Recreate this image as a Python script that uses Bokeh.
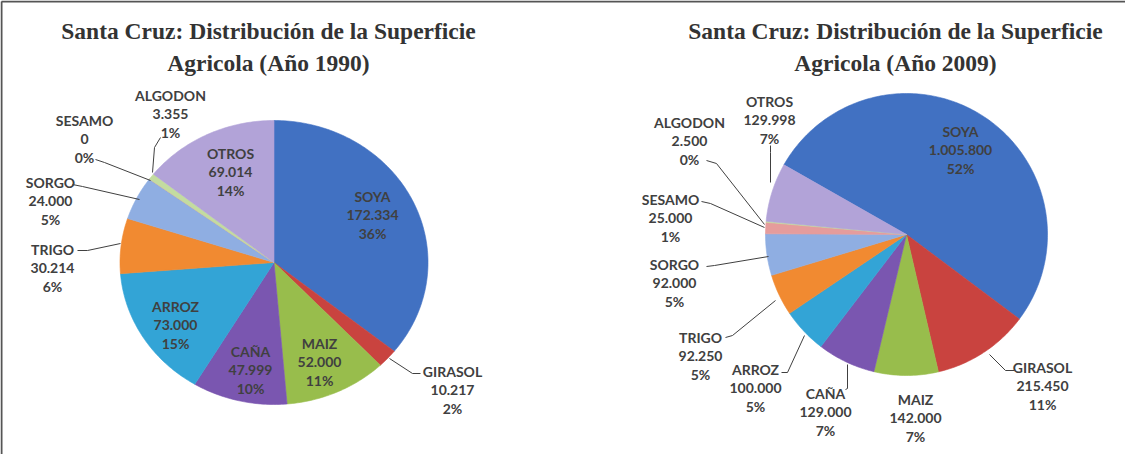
import numpy as np
from bokeh.plotting import figure
from bokeh.models import Range1d, ColumnDataSource
from bokeh.core.properties import value
from bokeh.embed import file_html
from bokeh.resources import INLINE

# ---------------- data ----------------
crops = ["SOYA", "GIRASOL", "MAIZ", "CAÑA", "ARROZ", "TRIGO", "SORGO", "SESAMO", "ALGODON", "OTROS"]
area_1990 = [172334, 10217, 52000, 47999, 73000, 30214, 24000, 0, 3355, 69014]
area_2009 = [1005800, 215450, 142000, 129000, 100000, 92250, 92000, 25000, 2500, 129998]
title_1990 = ["Santa Cruz: Distribución de la Superficie", "Agricola (Año 1990)"]
title_2009 = ["Santa Cruz: Distribución de la Superficie", "Agricola (Año 2009)"]

colors = ["#4171C2", "#C9433F", "#98BD4C", "#7A56B0", "#33A4D6",
          "#F18A31", "#8FAEE2", "#E59C9C", "#C3DCA0", "#B2A3D8"]

# ---------------- layout (page pixel coordinates) ----------------
W, H = 1125, 454


def X(px):
    return px - 8


def Y(py):
    return 462 - py


pie_1990 = dict(cx=281.5, cy=270, rx=154, ry=142, start=90.0)
pie_2009 = dict(cx=914, cy=242, rx=141, ry=141, start=150.4)

# label block centres (page px) per slice, in crops order
lab_1990 = [(380, 222), (460, 397), (327, 369), (258, 377), (183, 332),
            (60, 275), (58, 208), (92, 146), (178, 121), (238, 179)]
lab_2009 = [(968, 157), (1050, 393), (923, 425), (833, 419), (763, 395),
            (708, 363), (682, 290), (678, 225), (697, 148), (777, 127)]

lead_1990 = {1: [(428, 381), (420, 381), (397, 366)],
             7: [(103, 167), (112, 170), (158, 188)],
             8: [(168, 145), (162, 155), (160, 180)],
             6: [(80, 192), (90, 194), (147, 207)],
             5: [(85, 258), (95, 258), (128, 251)]}
lead_2009 = {1: [(1022, 378), (1013, 378), (997, 362)],
             3: [(853, 397), (855, 396), (855, 372)],
             4: [(789, 380), (795, 380), (812, 343)],
             5: [(733, 345), (740, 343), (783, 308)],
             6: [(714, 274), (722, 273), (776, 264)],
             7: [(709, 209), (718, 211), (772, 235)],
             8: [(714, 168), (724, 171), (772, 232)],
             9: [(778, 153), (778, 160), (778, 190)]}

p = figure(width=W, height=H, output_backend="svg", toolbar_location=None,
           x_range=Range1d(0, W), y_range=Range1d(0, H), min_border=0)
p.axis.visible = False
p.grid.visible = False
p.outline_line_color = None
p.background_fill_color = "white"
p.border_fill_color = "white"

# frame (left and top edges)
p.segment(x0=[X(9), X(9)], y0=[Y(9), Y(9)], x1=[X(9), X(1140)], y1=[Y(470), Y(9)],
          line_color="#555555", line_width=2)


def draw_pie(vals, geo, labels, leads):
    vals = np.asarray(vals, dtype=float)
    tot = vals.sum()
    frac = vals / tot
    cum = np.concatenate([[0], np.cumsum(frac)])
    xs, ys = [], []
    for i in range(len(vals)):
        a0 = np.radians(geo["start"] - 360 * cum[i])
        a1 = np.radians(geo["start"] - 360 * cum[i + 1])
        n = max(2, int(abs(a1 - a0) * 60))
        t = np.linspace(a0, a1, n)
        px = np.concatenate([[geo["cx"]], geo["cx"] + geo["rx"] * np.cos(t)])
        py = np.concatenate([[geo["cy"]], geo["cy"] - geo["ry"] * np.sin(t)])
        xs.append(list(X(px)))
        ys.append(list(Y(py)))
    src = ColumnDataSource(dict(xs=xs, ys=ys, color=colors, name=crops))
    p.patches("xs", "ys", source=src, fill_color="color", line_color="color", line_width=0.6)

    # leader lines
    lx, ly = [], []
    for k, pts in leads.items():
        lx.append([X(a) for a, b in pts])
        ly.append([Y(b) for a, b in pts])
    p.multi_line(lx, ly, line_color="#404040", line_width=1)

    # labels (three lines each)
    tx, ty, tt = [], [], []
    for i, (c, v) in enumerate(zip(crops, vals)):
        cx, cy = labels[i]
        num = f"{int(v):,}".replace(",", ".")
        pct = f"{round(frac[i] * 100):.0f}%"
        for j, s in enumerate([c, num, pct]):
            tx.append(X(cx))
            ty.append(Y(cy + (j - 1) * 18.5))
            tt.append(s)
    p.text(x=tx, y=ty, text=tt, text_align="center", text_baseline="middle",
           text_font=value("Lato"), text_font_style="bold", text_font_size="14px",
           text_color="#404040")


draw_pie(area_1990, pie_1990, lab_1990, lead_1990)
draw_pie(area_2009, pie_2009, lab_2009, lead_2009)

# titles
for title, cx in [(title_1990, 276), (title_2009, 903)]:
    p.text(x=[X(cx)] * 2, y=[Y(38), Y(70)], text=title, text_align="center",
           text_baseline="middle", text_font=value("Liberation Serif"),
           text_font_style="bold", text_font_size="23.5px", text_color="#333333")

open("out.html", "w").write(file_html(p, INLINE))
